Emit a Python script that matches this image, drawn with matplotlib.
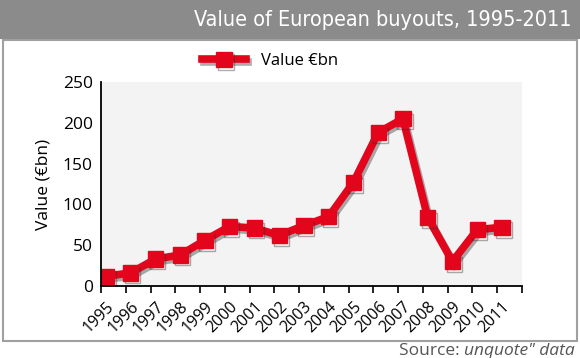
import matplotlib.pyplot as plt
import matplotlib.patheffects as pe
from matplotlib.patches import Rectangle

years = [str(y) for y in range(1995, 2012)]
values = [12, 16, 33, 38, 56, 73, 71, 62, 74, 85, 127, 188, 205, 84, 30, 69, 72]
yticks = [0, 50, 100, 150, 200, 250]

red = '#e3051b'
W, H = 580, 358

fig = plt.figure(figsize=(W / 100, H / 100), dpi=100)
fig.patch.set_facecolor('white')

# frame + title bar (figure pixel coords)
fig.patches.append(Rectangle((3 / W, 1 - 341 / H), 574 / W, 301 / H, transform=fig.transFigure,
                             facecolor='white', edgecolor='#a0a0a0', lw=1.5, zorder=-2))
fig.patches.append(Rectangle((0, 1 - 39 / H), 1, 39 / H, transform=fig.transFigure,
                             facecolor='#8b8b8b', edgecolor='none', zorder=-1))
fig.text(572 / W, 1 - 20 / H, 'Value of European buyouts, 1995-2011', color='white',
         fontsize=15.5, ha='right', va='center', family='DejaVu Sans', stretch='condensed')

ax = fig.add_axes([101 / W, 1 - 286 / H, 421 / W, 204 / H])
ax.set_facecolor('#f3f3f3')
x = list(range(len(years)))
shadow = [pe.SimpleLineShadow(offset=(1.5, -2), alpha=0.4, shadow_color='#333333'), pe.Normal()]
line, = ax.plot(x, values, color=red, lw=5.5, marker='s', ms=11, mec=red, mfc=red,
                solid_joinstyle='miter', path_effects=shadow, label='Value €bn')
ax.set_xlim(-0.2, 16.81)
ax.set_ylim(0, 250)
ax.set_yticks(yticks)
ax.set_xticks([i - 0.19 for i in range(len(years) + 1)], minor=True)
ax.set_xticks(x)
ax.set_xticklabels(years, rotation=45, ha='right', rotation_mode='anchor', family='Open Sans')
ax.tick_params(axis='x', which='major', length=0, pad=9, labelsize=11.5)
ax.tick_params(axis='x', which='minor', length=5, width=1.2, direction='out')
ax.tick_params(axis='y', length=0, pad=6, labelsize=12.5)
for t in ax.get_yticklabels():
    t.set_family('Open Sans')
for s in ['top', 'right']:
    ax.spines[s].set_visible(False)
ax.spines['left'].set_linewidth(1.3)
ax.spines['bottom'].set_linewidth(1.3)
ax.set_ylabel('Value (€bn)', fontsize=12.5, family='Open Sans', labelpad=8)

leg = fig.legend(handles=[line], loc='center', bbox_to_anchor=(270 / W, 1 - 61 / H),
                 frameon=False, handlelength=2.6, handletextpad=0.9,
                 prop={'family': 'Open Sans', 'size': 12})

fig.text(575 / W, 1 - 355 / H, 'Source: ', color='#555555', fontsize=12.5, ha='right',
         va='baseline', family='Open Sans')
src = fig.text(575 / W, 1 - 355 / H, 'unquote" data', color='#555555', fontsize=12.5,
               ha='right', va='baseline', family='Open Sans', style='italic')
fig.canvas.draw()
bb = src.get_window_extent()
fig.texts[-2].set_x(bb.x0 / W)

fig.savefig('out.png', dpi=100)
